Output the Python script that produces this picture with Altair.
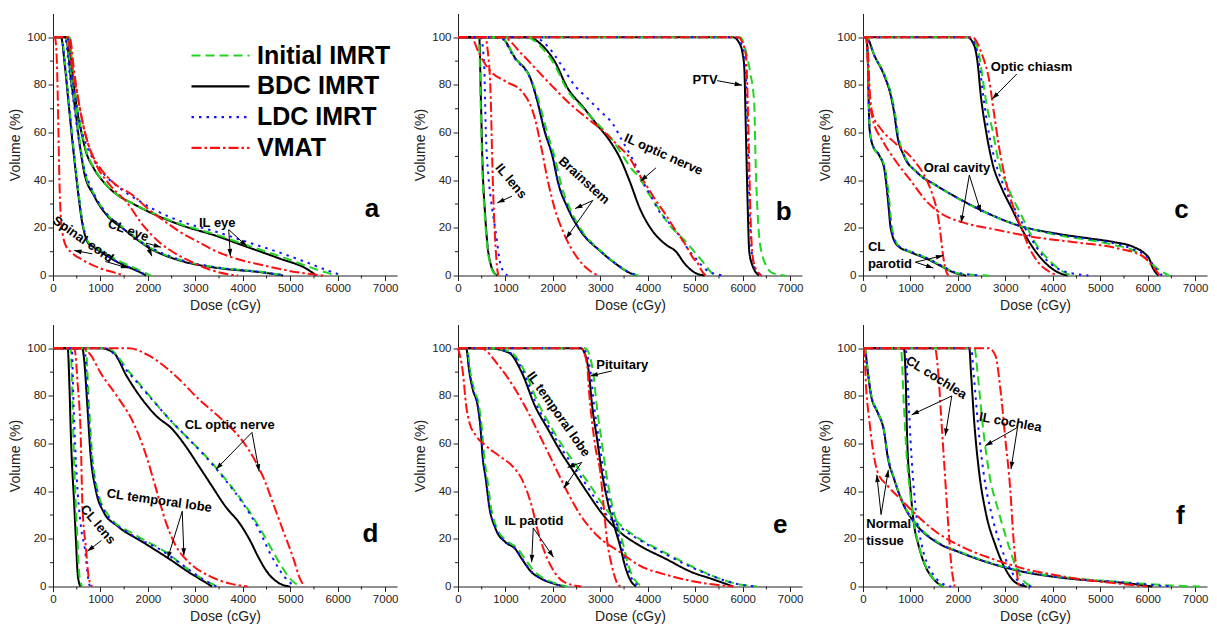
import math
import altair as alt
import pandas as pd

# ---------------- layout constants ----------------
W, H = 344, 262
X_MAX, Y_MAX = 7250, 110
FONT = "Liberation Sans, Arial, Roboto, sans-serif"
AX = "#222222"

SERIES = ["Initial IMRT", "BDC IMRT", "LDC IMRT", "VMAT"]
COLORS = ["#22d422", "#000000", "#1414ff", "#ff1010"]
DASHES = [[9, 5], [1, 0], [2.5, 5], [10, 3, 2.5, 3]]
DRAW_ORDER = ["BDC IMRT", "Initial IMRT", "LDC IMRT", "VMAT"]

X_TICKS = [0, 1000, 2000, 3000, 4000, 5000, 6000, 7000]
Y_TICKS = [0, 20, 40, 60, 80, 100]
X_MINOR = [500, 1500, 2500, 3500, 4500, 5500, 6500]
Y_MINOR = [10, 30, 50, 70, 90]

# ---------------- panel a ----------------
A_IL_EYE = {
    "BDC IMRT": [(330,100),(380,90),(450,78),(520,68),(600,60),(680,53),(860,45),(1100,38.5),(1345,34),(1700,30),(2034,26.6),(2724,21),(3414,16.8),(4103,11.9),(4793,7),(5345,2.8),(5550,0)],
    "Initial IMRT": [(350,100),(400,90),(460,78),(530,68),(610,60),(690,53),(870,45),(1100,38.5),(1345,34),(1700,30),(2034,26.8),(2724,21.3),(3414,17.3),(4103,12.6),(4793,8),(5345,4),(5800,1),(6000,0)],
    "LDC IMRT": [(300,100),(360,92),(430,80),(510,70),(600,61),(720,54),(900,47),(1150,41),(1450,36),(1800,31.5),(2100,28),(2724,22.5),(3414,18.5),(4103,14),(4793,9.5),(5345,5.5),(5800,2),(6100,0)],
    "VMAT": [(300,100),(400,88),(520,75),(655,61.5),(800,52),(1000,45),(1300,38.5),(1690,33.6),(2000,28),(2379,22.4),(2700,18),(3069,14),(3400,10.5),(3758,7.7),(4448,4.2),(5138,1.4),(5700,0)],
}
A_CL_EYE = {
    "BDC IMRT": [(270,100),(380,82),(480,68),(550,57),(655,43.5),(862,33.6),(1138,25.2),(1483,19.6),(2034,11.5),(2724,6),(3414,3.3),(4448,1.2),(4850,0)],
    "Initial IMRT": [(280,100),(390,82),(490,68),(560,57),(665,44),(870,34),(1150,25.5),(1500,19.8),(2034,11.8),(2724,6.3),(3414,3.5),(4448,1.4),(4900,0)],
    "LDC IMRT": [(250,100),(350,85),(440,72),(520,60),(620,48),(800,37),(1050,28),(1400,21),(2034,12),(2724,6.3),(3414,3.5),(4448,1.3),(4900,0)],
    "VMAT": [(350,100),(450,85),(550,72),(700,58),(900,47),(1200,38),(1552,30.8),(1900,21),(2241,14),(2600,9),(2931,5.6),(3300,2.5),(3700,0.5),(3900,0)],
}
A_SPINAL = {
    "BDC IMRT": [(170,100),(250,88),(330,72),(400,58),(470,45),(540,33),(600,24),(660,18),(730,14),(850,12),(1000,10),(1200,7.5),(1400,5.2),(1650,3),(1850,1.2),(1960,0)],
    "Initial IMRT": [(180,100),(260,88),(340,72),(410,58),(480,45),(550,33),(610,24),(670,18),(740,14.2),(860,12.3),(1000,10.5),(1200,8.2),(1400,6),(1650,3.8),(1900,1.5),(2060,0)],
    "LDC IMRT": [(175,100),(255,88),(335,72),(405,58),(475,45),(545,33),(605,24),(665,18),(735,14),(850,12),(1000,10),(1200,7.6),(1400,5.3),(1650,3.1),(1850,1.3),(1980,0)],
    "VMAT": [(40,100),(70,95),(95,80),(115,60),(135,40),(160,26),(200,18),(260,13),(400,9.5),(600,6.8),(1000,3),(1300,1.2),(1500,0)],
}
A_LABELS = [("IL eye", 3462, 22.1, 0), ("CL eye", 1586, 18.9, 20), ("Spinal cord", 634, 15.1, 35)]
A_LEFT = []
A_ARROWS = [(3703,19.3,4083,12.3),(3703,19.3,3738,8.1),(1966,13.6,2276,11.9),(1966,13.6,2083,8.1),(828,9.1,448,10.5),(1103,5.9,1586,3.1)]

# ---------------- panel b ----------------
B_IL_LENS = {
    "BDC IMRT": [(448,100),(482,74.5),(517,46.5),(572,25.5),(620,13),(690,4.6),(760,1.2),(830,0)],
    "Initial IMRT": [(440,100),(475,74),(510,46),(565,25),(615,12.5),(685,4.3),(760,1),(830,0)],
    "LDC IMRT": [(480,100),(551,88.5),(586,60.5),(640,42),(690,32.5),(793,18.6),(896,4.6),(1000,0.8),(1040,0)],
    "VMAT": [(580,100),(620,95.5),(690,74.5),(724,46.5),(758,25.5),(793,11.6),(820,4),(850,0)],
}
B_BRAINSTEM = {
    "BDC IMRT": [(896,100),(1206,91.3),(1551,81.5),(1655,74.5),(1827,60.5),(2000,49.3),(2103,39.5),(2310,28.4),(2586,18.6),(3000,10.2),(3345,4.6),(3620,1.1),(3780,0)],
    "Initial IMRT": [(900,100),(1210,91.3),(1560,81.5),(1690,74),(1880,60),(2060,48),(2170,38.5),(2360,28),(2620,18.5),(3000,10.4),(3345,4.8),(3620,1.2),(3800,0)],
    "LDC IMRT": [(880,100),(1200,91),(1545,81.5),(1650,74.5),(1830,60.5),(2010,49),(2110,39.5),(2320,28.4),(2590,18.6),(3000,10.3),(3345,4.7),(3620,1.2),(3820,0)],
    "VMAT": [(275,100),(450,93),(655,86.4),(1000,81.5),(1344,77.3),(1620,66),(1758,53.5),(1896,39.5),(2034,28.4),(2241,17.2),(2517,7.4),(2793,1.8),(2950,0)],
}
B_IL_OPTIC = {
    "BDC IMRT": [(1482,100),(1758,96.9),(2034,90),(2310,78.7),(2655,70.3),(2931,63.3),(3207,56.3),(3414,49.3),(3620,39.5),(3827,28.4),(4103,18.6),(4379,13),(4586,10.2),(4793,4.6),(5000,1.1),(5200,0)],
    "Initial IMRT": [(1450,100),(1750,96),(2020,89),(2300,78),(2650,70),(2950,63.5),(3250,57),(3450,51),(3650,45),(3827,41),(4000,35),(4172,29.8),(4448,21.4),(4793,14.4),(5000,9.5),(5207,4.6),(5350,1),(5420,0)],
    "LDC IMRT": [(1600,100),(1900,96),(2172,88.5),(2450,80),(2724,74.5),(3000,69),(3276,63.3),(3450,57),(3620,51),(3800,44),(3896,39.5),(4050,34),(4241,27),(4450,22),(4655,17.2),(4850,11),(5000,7.4),(5276,1.8),(5600,0)],
    "VMAT": [(950,100),(1345,93),(1690,85.7),(2034,78.5),(2379,71.7),(2724,66),(3069,60.5),(3350,55),(3620,49.3),(3800,43),(3965,38),(4170,31.5),(4379,25.5),(4600,18.5),(4793,13),(4950,7.5),(5069,4.6),(5150,1.5),(5220,0)],
}
B_PTV = {
    "BDC IMRT": [(5800,100),(5931,97.5),(6000,93),(6034,87),(6069,59),(6103,31),(6138,10.2),(6200,4.5),(6241,2.5),(6345,0)],
    "Initial IMRT": [(5950,100),(6069,94),(6160,85),(6241,73),(6276,45),(6310,28),(6345,17),(6420,8),(6483,4.6),(6620,1.1),(6900,0)],
    "LDC IMRT": [(5850,100),(5980,97),(6050,90),(6090,70),(6120,45),(6150,25),(6190,10),(6260,3),(6420,0)],
    "VMAT": [(5900,100),(6000,97.5),(6070,92),(6110,70),(6140,45),(6165,25),(6200,10),(6260,3.5),(6400,0)],
}
B_LABELS = [("IL lens",1117,39.6,50),("Brainstem",2655,39.9,42),("IL optic nerve",4331,50.8,24),("PTV",5207,82.2,0)]
B_LEFT = []
B_ARROWS = [(1138,33.3,828,30.5),(2841,31.5,2469,28.1),(2841,31.5,2276,15.5),(4172,45.2,3848,39.6),(5462,81.8,5986,79.9)]

# ---------------- panel c ----------------
C_CHIASM = {
    "BDC IMRT": [(2200,100),(2345,96.5),(2414,89.5),(2483,75.5),(2586,61.5),(2724,47.5),(2931,36.3),(3138,28),(3345,19.6),(3551,12.6),(3827,5.6),(4103,1.4),(4310,0)],
    "Initial IMRT": [(2250,100),(2420,95),(2520,83),(2620,70),(2724,61.5),(2862,47.5),(3069,36.3),(3345,25),(3620,14),(3965,5.6),(4310,0.7),(4480,0)],
    "LDC IMRT": [(2230,100),(2380,96),(2460,87),(2550,73),(2650,60),(2800,47),(3000,36),(3250,26),(3500,17),(3800,8),(4200,2),(4750,0)],
    "VMAT": [(2300,100),(2517,92.3),(2655,82.5),(2758,68.5),(2862,54.5),(3000,40.5),(3207,26.5),(3345,19.6),(3482,12.6),(3690,5.6),(3896,2),(4103,0)],
}
C_ORAL = {
    "BDC IMRT": [(69,100),(241,92.3),(448,83.9),(586,75.5),(655,68.5),(724,58.7),(862,50.3),(1138,43.3),(1551,37.7),(2034,32.1),(2586,26.5),(3276,21),(4103,17.5),(4793,15.5),(5300,14),(5700,12),(5950,9),(6030,7.2),(6100,3.5),(6230,0)],
    "Initial IMRT": [(69,100),(250,92),(460,84),(600,75.5),(675,68),(745,58.5),(880,50),(1150,43),(1560,37.5),(2034,32),(2586,26.4),(3276,21),(4103,17),(4793,14.8),(5300,12.8),(5700,10.5),(6000,6.5),(6200,3),(6450,0)],
    "LDC IMRT": [(69,100),(245,92),(452,84),(590,75.5),(660,68.5),(728,58.7),(866,50.3),(1140,43.3),(1551,37.7),(2034,32.1),(2586,26.5),(3276,21),(4103,17.3),(4793,15.2),(5300,13.5),(5700,11),(6000,7.5),(6150,3.5),(6300,0)],
    "VMAT": [(60,100),(100,90),(130,77),(200,66),(400,57),(655,49),(1000,40),(1345,31),(1690,25.5),(2069,22.5),(2862,19),(3551,16.3),(4448,14),(5345,11.5),(5900,8),(6100,4),(6250,0)],
}
C_PAROTID = {
    "BDC IMRT": [(69,100),(103,89.5),(117,75.5),(138,61.5),(207,54.5),(345,50.3),(448,44.8),(517,33.6),(586,19.6),(724,12.6),(1000,9.8),(1345,7),(1620,4.2),(1896,1.4),(2172,0)],
    "Initial IMRT": [(69,100),(105,89),(120,75),(142,61),(215,54),(360,50),(470,44.5),(545,33),(615,19.5),(750,12.5),(1030,9.8),(1380,7),(1660,4),(1930,1.3),(2300,0.3),(2650,0)],
    "LDC IMRT": [(69,100),(104,89.5),(118,75.5),(140,61.5),(210,54.5),(350,50.3),(455,44.8),(525,33.6),(595,19.6),(735,12.6),(1020,10),(1360,7.2),(1640,4.3),(1920,1.5),(2300,0.3),(2500,0)],
    "VMAT": [(80,100),(110,92),(140,78),(200,68),(379,61.5),(655,56),(1000,50),(1200,45),(1345,40),(1480,33),(1551,28),(1620,19.6),(1690,8),(1758,1.4),(1800,0)],
}
C_LABELS = [("Optic chiasm",3552,87.4,0),("Oral cavity",1979,45.2,0)]
C_LEFT = [("CL",103,11.9),("parotid",103,4.9)]
C_ARROWS = [(3241,84.6,2724,74.1),(2241,42.2,2483,26.6),(2241,42.2,2069,22.1),(1103,5.6,1690,8.4),(1103,5.6,1483,3.1)]

# ---------------- panel d ----------------
D_CL_LENS = {
    "BDC IMRT": [(310,100),(345,85),(379,62),(448,34),(482,20),(517,6),(550,1.5),(580,0)],
    "Initial IMRT": [(370,100),(400,85),(430,62),(480,34),(515,20),(550,6),(590,1.2),(620,0)],
    "LDC IMRT": [(395,100),(434,76),(503,45),(586,25.6),(690,13),(724,6),(758,1.5),(780,0)],
    "VMAT": [(450,100),(520,85),(586,62),(620,34),(690,17),(758,3.2),(827,0)],
}
D_CL_TEMPORAL = {
    "BDC IMRT": [(620,100),(655,95.4),(724,75.9),(793,54.9),(896,41),(1069,31.2),(1345,25.6),(1896,18.6),(2448,11.6),(2862,6),(3207,1.8),(3350,0)],
    "Initial IMRT": [(690,100),(758,76),(827,55),(931,41),(1172,29.8),(1758,21.4),(2379,14.4),(2931,6),(3300,1.5),(3500,0)],
    "LDC IMRT": [(660,100),(740,76),(810,55),(915,41),(1120,30.5),(1600,22.5),(2300,15),(2800,8),(3200,2.5),(3450,0)],
    "VMAT": [(620,100),(800,97),(1000,89.8),(1345,80),(1690,68.9),(1965,54.9),(2172,41),(2379,27),(2586,17.2),(2862,10.2),(3276,4.6),(3758,1.1),(4100,0)],
}
D_CL_OPTIC = {
    "BDC IMRT": [(1000,100),(1275,98.2),(1551,88.4),(1827,80),(2172,71.7),(2517,66),(2793,59),(3069,50.7),(3345,42.3),(3620,34),(3965,25.6),(4172,18.6),(4310,13),(4517,6),(4793,1.1),(5000,0)],
    "Initial IMRT": [(1138,100),(1620,89.8),(2034,80),(2448,70.3),(2862,61.9),(3276,53.5),(3690,43.7),(4103,32.6),(4448,21.4),(4724,11.6),(5000,3.2),(5200,0)],
    "LDC IMRT": [(1100,100),(1580,90),(2000,80.5),(2420,71),(2830,62.5),(3240,54),(3620,45),(3965,36),(4310,25),(4600,13),(4900,3.5),(5100,0)],
    "VMAT": [(1600,100),(2034,96.8),(2586,88.4),(3069,78.7),(3551,70.3),(3965,61.9),(4241,53.5),(4448,45.1),(4655,34),(4862,22.8),(5069,11.6),(5207,3.2),(5300,0)],
}
D_LABELS = [("CL optic nerve",3724,67.7,0),("CL temporal lobe",2241,36,8),("CL lens",945,26,50)]
D_LEFT = []
D_ARROWS = [(4193,64.7,3435,49.2),(4193,64.7,4345,48.3),(2724,31.6,2414,11.6),(2724,31.6,2759,13),(1020,19.3,724,14.8)]

# ---------------- panel e ----------------
E_PITUITARY = {
    "BDC IMRT": [(2586,100),(2690,96.8),(2758,89.8),(2827,75.9),(2931,61.9),(3034,47.9),(3172,34),(3310,24.2),(3414,17.2),(3517,8.8),(3620,3.2),(3750,0)],
    "Initial IMRT": [(2680,100),(2790,96),(2860,88),(2930,75),(3020,62),(3120,48),(3250,34),(3390,24),(3490,17),(3590,9),(3700,3.5),(3900,0)],
    "LDC IMRT": [(2620,100),(2730,96.5),(2800,89),(2870,75.5),(2970,62),(3070,48),(3210,34),(3350,24),(3450,17),(3560,9),(3670,3),(3850,0)],
    "VMAT": [(2600,100),(2724,92.6),(2758,82.8),(2827,68.9),(2900,58),(3000,47.9),(3069,34),(3138,20),(3241,8.8),(3345,1.8),(3420,0)],
}
E_IL_TEMPORAL = {
    "BDC IMRT": [(655,100),(1069,98.2),(1345,89.8),(1620,75.9),(1896,66),(2172,56.3),(2448,47.9),(2724,39.5),(3069,29.8),(3414,22.8),(3827,17.2),(4379,11.6),(4931,6),(5345,3.2),(5800,0)],
    "Initial IMRT": [(700,100),(1100,98.5),(1414,90),(1690,77),(1960,67),(2240,58),(2520,50),(2800,42),(3100,33),(3414,26),(3827,20),(4379,14),(4931,8.4),(5345,4.6),(5900,1),(6300,0)],
    "LDC IMRT": [(680,100),(1080,98.3),(1380,90),(1650,76.5),(1930,66.5),(2210,57),(2490,49),(2760,41),(3069,31.5),(3414,25),(3827,19.5),(4379,13.5),(4931,8),(5345,4.5),(5900,1),(6300,0)],
    "VMAT": [(482,100),(862,92.6),(1206,82.8),(1482,73),(1758,61.9),(2034,50.7),(2310,39.5),(2586,29.8),(2931,21.4),(3414,14.4),(3827,8.8),(4448,4.6),(5000,2),(5800,0)],
}
E_IL_PAROTID = {
    "BDC IMRT": [(172,100),(241,89.8),(310,82.8),(414,75.9),(482,64.7),(517,54.9),(586,45.1),(655,34),(793,24.2),(1000,18.6),(1206,15.8),(1345,11.6),(1551,6),(1758,3.2),(2034,1.1),(2241,0)],
    "Initial IMRT": [(190,100),(260,90),(335,83),(440,76),(510,65),(550,55),(620,45),(690,34),(830,24),(1040,19),(1250,16),(1400,12),(1600,6.5),(1800,3.5),(2070,1.2),(2300,0)],
    "LDC IMRT": [(175,100),(245,89.8),(315,82.8),(418,75.9),(486,64.7),(522,54.9),(590,45.1),(660,34),(800,24.2),(1010,18.6),(1215,15.8),(1355,11.6),(1560,6),(1770,3.2),(2040,1.1),(2250,0)],
    "VMAT": [(0,100),(103,89.8),(172,75.9),(241,68.9),(379,63.3),(586,59.1),(862,54.9),(1138,50.7),(1345,45.1),(1551,34),(1690,22.8),(1827,14.4),(2034,6),(2241,1.8),(2600,0)],
}
E_LABELS = [("Pituitary",3462,93,0),("IL temporal lobe",2117,72.3,55),("IL parotid",1600,27.4,0)]
E_LEFT = []
E_ARROWS = [(3241,90.5,2793,88.4),(2607,52.1,2310,50),(2607,52.1,2228,41.3),(1586,24.6,1552,10.2),(1586,24.6,2014,12.3)]

# ---------------- panel f ----------------
F_NORMAL = {
    "BDC IMRT": [(34,100),(103,89.8),(172,80),(310,73),(448,64.7),(517,54.9),(655,45.1),(862,34),(1138,25.6),(1551,18.6),(2034,14.4),(2724,9.5),(3414,6),(4103,3.9),(4793,2.5),(5345,1.8),(5800,0.8),(6100,0)],
    "Initial IMRT": [(34,100),(110,89.5),(180,80),(320,73),(455,64.5),(525,55),(665,45),(870,34),(1145,25.8),(1560,18.8),(2040,14.6),(2724,9.7),(3414,6.2),(4103,4.2),(4793,2.8),(5345,2),(5900,1.2),(6500,0.4),(7100,0)],
    "LDC IMRT": [(34,100),(105,89.8),(175,80),(312,73),(450,64.7),(520,54.9),(658,45.1),(865,34),(1140,25.6),(1555,18.6),(2034,14.4),(2724,9.6),(3414,6.1),(4103,4),(4793,2.6),(5345,1.9),(6000,0.8),(6500,0)],
    "VMAT": [(20,100),(68,82.8),(138,68.9),(207,57.7),(310,47.9),(517,42.3),(793,36.7),(1138,29.8),(1551,22.8),(2034,17.2),(2724,11.6),(3414,7.4),(4103,4.6),(4793,2.5),(5400,1.2),(6000,0)],
}
F_CL_COCHLEA = {
    "BDC IMRT": [(862,100),(896,89.8),(931,61.9),(1000,41),(1069,27),(1172,17.2),(1310,8.8),(1482,3.2),(1690,0)],
    "Initial IMRT": [(800,100),(862,75.9),(920,55),(990,40),(1069,27.5),(1172,17.5),(1310,9),(1482,3.3),(1700,0)],
    "LDC IMRT": [(900,100),(931,89.8),(1000,61.9),(1103,34),(1241,17.2),(1448,6),(1650,1.5),(1860,0)],
    "VMAT": [(1517,100),(1586,89.8),(1655,68.9),(1724,47.9),(1793,27),(1862,8.8),(1931,0)],
}
F_IL_COCHLEA = {
    "BDC IMRT": [(2241,100),(2276,89.8),(2345,68.9),(2448,47.9),(2586,31.2),(2793,17.2),(3000,7.4),(3207,1.8),(3450,0)],
    "Initial IMRT": [(2350,100),(2414,89.8),(2517,68.9),(2655,47.9),(2862,31.2),(3069,17.2),(3241,7.4),(3414,1.8),(3600,0)],
    "LDC IMRT": [(2280,100),(2330,89.8),(2420,68.9),(2540,47.9),(2700,31.2),(2900,17.2),(3100,7.4),(3300,1.8),(3550,0)],
    "VMAT": [(2655,100),(2793,96.8),(2896,82.8),(3000,61.9),(3103,41),(3172,20),(3241,6),(3276,1.5),(3300,0)],
}
F_LABELS = [("CL cochlea",1545,87.7,32),("IL cochlea",3105,68.9,10)]
F_LEFT = [("Normal",69,26.3),("tissue",69,19.3)]
F_ARROWS = [(1871,80,1026,72.1),(1871,80,1733,63.3),(3257,66.8,2578,59.1),(3257,66.8,3119,49.3),(381,30.2,291,46.9),(381,30.2,534,48.9)]

LETTERS = [("a",6724,28),("b",6862,26.7),("c",6710,27.7),("d",6690,22.1),("e",6793,26),("f",6687,29.7)]

PANELS = [
    ([("IL eye",A_IL_EYE),("CL eye",A_CL_EYE),("Spinal cord",A_SPINAL)], A_LABELS, A_LEFT, A_ARROWS),
    ([("IL lens",B_IL_LENS),("Brainstem",B_BRAINSTEM),("IL optic nerve",B_IL_OPTIC),("PTV",B_PTV)], B_LABELS, B_LEFT, B_ARROWS),
    ([("Optic chiasm",C_CHIASM),("Oral cavity",C_ORAL),("CL parotid",C_PAROTID)], C_LABELS, C_LEFT, C_ARROWS),
    ([("CL lens",D_CL_LENS),("CL temporal lobe",D_CL_TEMPORAL),("CL optic nerve",D_CL_OPTIC)], D_LABELS, D_LEFT, D_ARROWS),
    ([("Pituitary",E_PITUITARY),("IL temporal lobe",E_IL_TEMPORAL),("IL parotid",E_IL_PAROTID)], E_LABELS, E_LEFT, E_ARROWS),
    ([("Normal tissue",F_NORMAL),("CL cochlea",F_CL_COCHLEA),("IL cochlea",F_IL_COCHLEA)], F_LABELS, F_LEFT, F_ARROWS),
]

# ---------------- chart building ----------------
XS = alt.Scale(domain=[0, X_MAX], nice=False)
YS = alt.Scale(domain=[0, Y_MAX], nice=False)
AXIS_STYLE = dict(
    labelFont=FONT, titleFont=FONT, labelFontSize=11.5, titleFontSize=14, titleFontWeight="normal",
    labelColor=AX, titleColor=AX, domainColor=AX, tickColor=AX, grid=False,
    tickSize=5, labelPadding=2, titlePadding=4, domainWidth=1, tickWidth=1,
    labelFlush=False, format="d",
)
X_AXIS = alt.Axis(values=X_TICKS, title="Dose (cGy)", **AXIS_STYLE)
Y_AXIS = alt.Axis(values=Y_TICKS, title="Volume (%)", **AXIS_STYLE)

LEG = alt.Legend(
    orient="none", legendX=155, legendY=29.5, padding=0,
    symbolType="M-2.9,0L2.9,0", symbolSize=400, symbolStrokeWidth=2.2,
    labelFont=FONT, labelFontSize=25, labelFontWeight="bold", labelColor="black",
    labelOffset=24, rowPadding=4.8,
)
COLOR = alt.Color("series:N", title=None, scale=alt.Scale(domain=SERIES, range=COLORS), legend=LEG)
DASH = alt.StrokeDash("series:N", title=None, scale=alt.Scale(domain=SERIES, range=DASHES), legend=LEG)

HEAD = "M0,0L-0.75,2.3L0.75,2.3Z"
PX_X = W / X_MAX
PX_Y = H / Y_MAX


def X(field):
    return alt.X(field, scale=XS, axis=X_AXIS)


def Y(field):
    return alt.Y(field, scale=YS, axis=Y_AXIS)


def curves_df(structs):
    rows = []
    for sname, sdict in structs:
        for ser, pts in sdict.items():
            pts = list(pts)
            if pts[0][0] > 0:
                pts = [(0, 100)] + pts
            for i, (d, v) in enumerate(pts):
                rows.append({"struct": sname, "series": ser, "dose": d, "vol": v, "i": i})
    return pd.DataFrame(rows)


def make_panel(structs, labels, left_labels, arrows, letter):
    df = curves_df(structs)
    layers = []
    for ser in DRAW_ORDER:
        sub = df[df["series"] == ser]
        layers.append(
            alt.Chart(sub).mark_line(interpolate="monotone", strokeWidth=2).encode(
                x=X("dose:Q"), y=Y("vol:Q"),
                color=COLOR, strokeDash=DASH,
                detail="struct:N", order="i:Q",
            )
        )
    # minor ticks
    layers.append(
        alt.Chart(pd.DataFrame({"d": X_MINOR})).mark_rule(color=AX, strokeWidth=1).encode(
            x=X("d:Q"), y=alt.value(H), y2=alt.value(H + 3)
        )
    )
    layers.append(
        alt.Chart(pd.DataFrame({"v": Y_MINOR})).mark_rule(color=AX, strokeWidth=1).encode(
            y=Y("v:Q"), x=alt.value(0), x2=alt.value(-3)
        )
    )
    # arrows
    arr = pd.DataFrame(arrows, columns=["d0", "v0", "d1", "v1"])
    ang = []
    for _, r in arr.iterrows():
        dx = (r.d1 - r.d0) * PX_X
        dy = -(r.v1 - r.v0) * PX_Y
        ang.append(math.degrees(math.atan2(dx, -dy)) % 360)
    arr["ang"] = ang
    layers.append(
        alt.Chart(arr).mark_rule(color="black", strokeWidth=1).encode(
            x=X("d0:Q"), y=Y("v0:Q"), x2="d1:Q", y2="v1:Q",
        )
    )
    layers.append(
        alt.Chart(arr).mark_point(shape=HEAD, filled=True, color="black", size=40, opacity=1).encode(
            x=X("d1:Q"), y=Y("v1:Q"), angle=alt.Angle("ang:Q", scale=None),
        )
    )
    # labels
    lab = pd.DataFrame(labels, columns=["t", "d", "v", "ang"])
    layers.append(
        alt.Chart(lab).mark_text(font=FONT, fontWeight="bold", fontSize=13, color="black",
                                 align="center", baseline="middle").encode(
            x=X("d:Q"), y=Y("v:Q"), text="t:N", angle=alt.Angle("ang:Q", scale=None),
        )
    )
    if left_labels:
        ll = pd.DataFrame(left_labels, columns=["t", "d", "v"])
        layers.append(
            alt.Chart(ll).mark_text(font=FONT, fontWeight="bold", fontSize=13, color="black",
                                    align="left", baseline="middle").encode(
                x=X("d:Q"), y=Y("v:Q"), text="t:N",
            )
        )
    let = pd.DataFrame([letter], columns=["t", "d", "v"])
    layers.append(
        alt.Chart(let).mark_text(font=FONT, fontWeight="bold", fontSize=26, color="black",
                                 align="center", baseline="middle").encode(
            x=X("d:Q"), y=Y("v:Q"), text="t:N",
        )
    )
    return alt.layer(*layers).properties(width=W, height=H)


panels = [make_panel(s, l, ll, a, LETTERS[k]) for k, (s, l, ll, a) in enumerate(PANELS)]

chart = alt.concat(*panels, columns=3, spacing={"row": 49, "column": 61}, bounds="flush").properties(
    padding={"left": 0, "top": 4.5, "right": 0, "bottom": 0}
).configure_view(stroke="transparent")

chart.save("out.html", embed_options={"renderer": "svg", "actions": False})
